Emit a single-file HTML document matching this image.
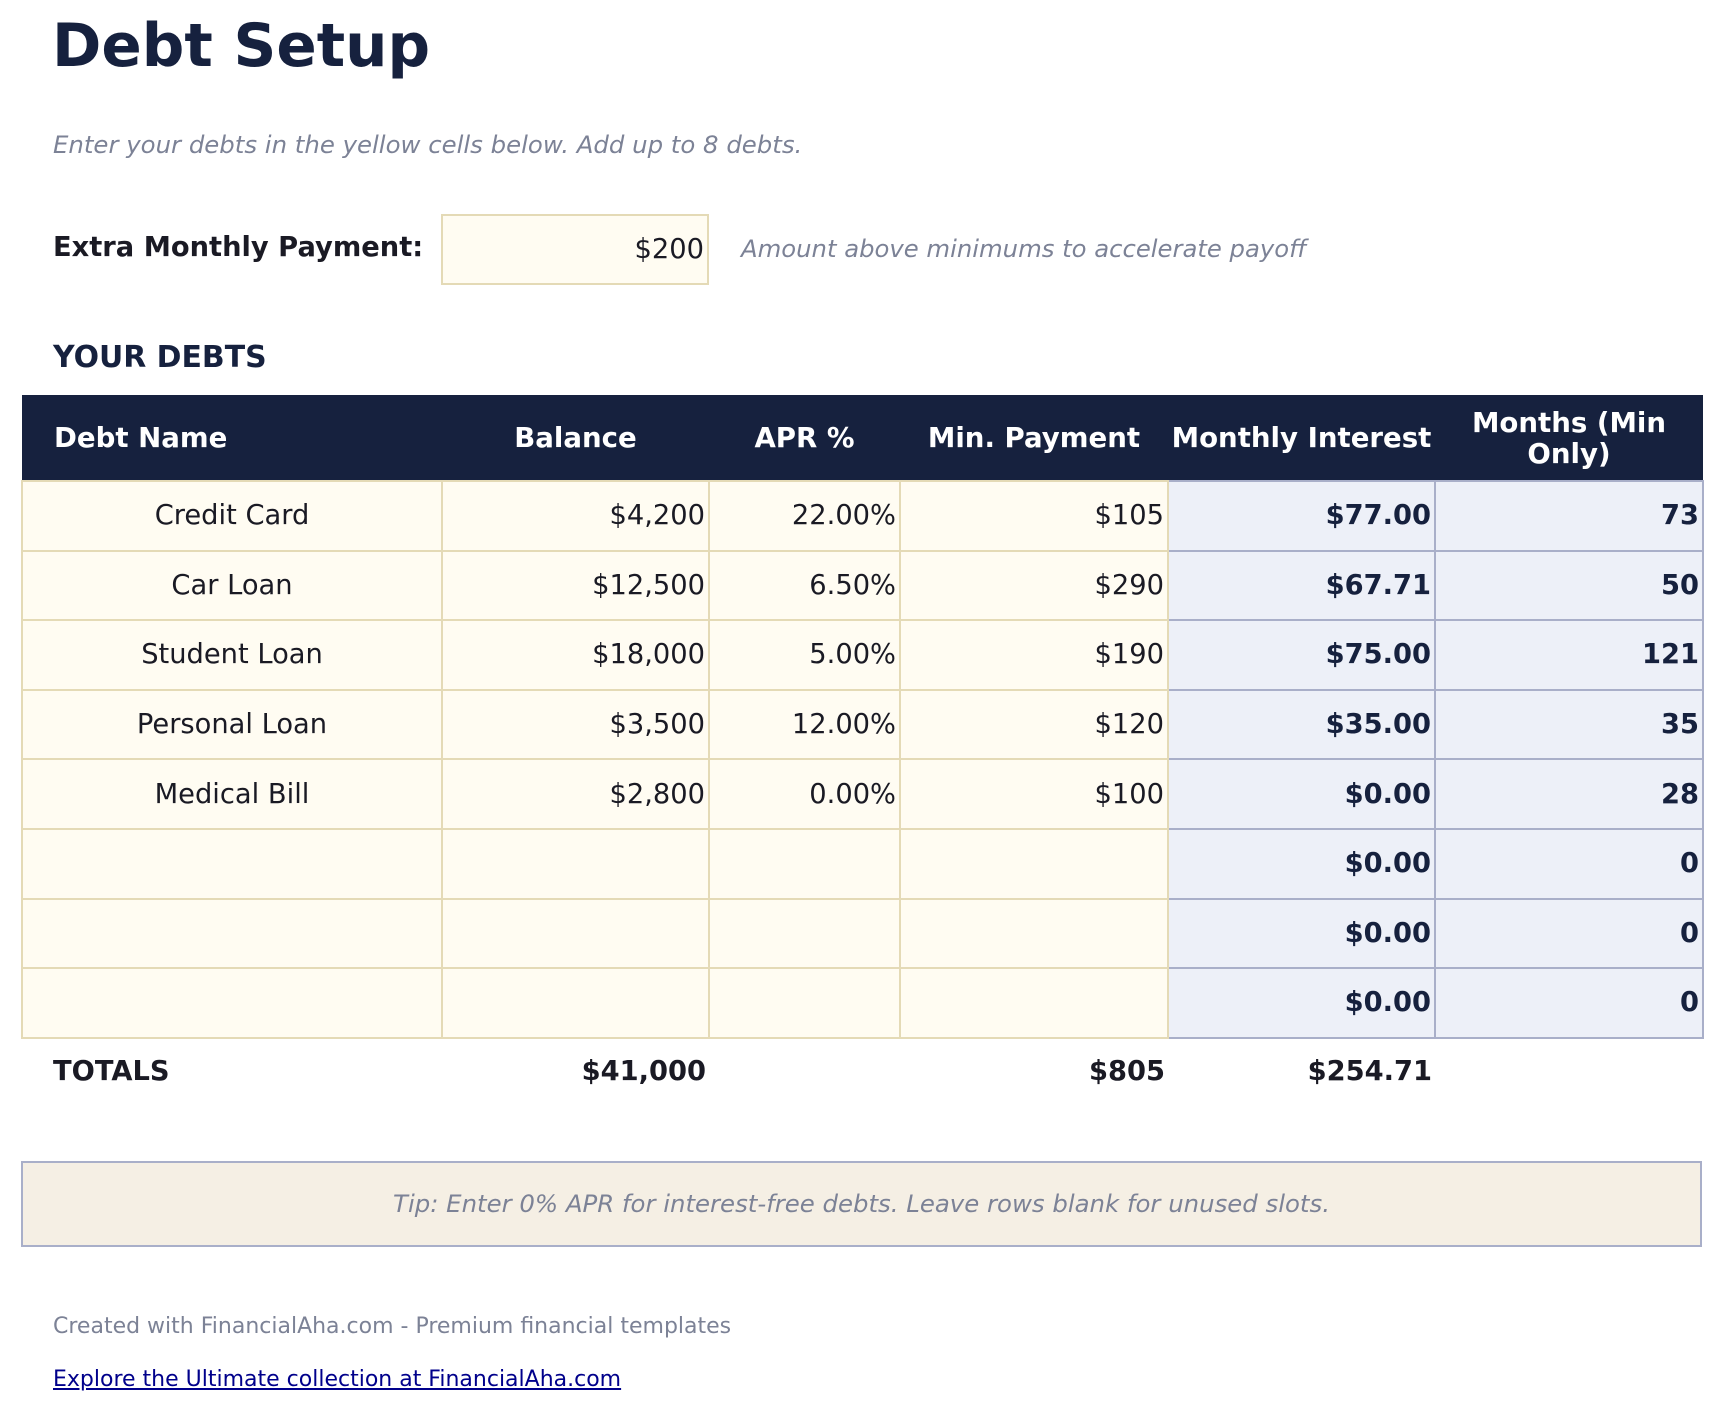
<!DOCTYPE html>
<html><head><meta charset="utf-8"><style>
body{margin:0;width:1723px;height:1412px;background:#fff;font-family:"DejaVu Sans","Liberation Sans",sans-serif;color:#1a1a24;position:relative;overflow:hidden}
.a{position:absolute;white-space:nowrap}
table{position:absolute;left:21px;top:395px;border-collapse:collapse;table-layout:fixed;font-size:27.3px}
td{height:67.6px;padding:0 3px;border:2px solid #e4dab6;background:#fffcf2;text-align:right}
td.c{text-align:center}
td.b{background:#edf0f8;border-color:#a9afc9;font-weight:bold;color:#16213e}
th{background:#16213e;color:#fff;font-weight:bold;height:85px;padding:0;text-align:center;line-height:31px;font-size:27.6px}
</style></head><body>
<div class="a" style="left:52px;top:12px;font-size:59.5px;font-weight:bold;color:#16213e">Debt Setup</div>
<div class="a" style="left:53px;top:130px;font-size:24.4px;font-style:italic;color:#7c8296">Enter your debts in the yellow cells below. Add up to 8 debts.</div>
<div class="a" style="left:53px;top:232px;font-size:27.3px;font-weight:bold">Extra Monthly Payment:</div>
<div class="a" style="left:441px;top:214px;border:2px solid #e4dab6;background:#fffcf2;font-size:27.3px;text-align:right;line-height:67px;padding-right:3px;box-sizing:border-box;width:268px;height:71px">$200</div>
<div class="a" style="left:741px;top:234px;font-size:24.3px;font-style:italic;color:#7c8296">Amount above minimums to accelerate payoff</div>
<div class="a" style="left:53px;top:340px;font-size:29.9px;font-weight:bold;color:#16213e">YOUR DEBTS</div>
<table>
<colgroup><col style="width:420px"><col style="width:267px"><col style="width:191px"><col style="width:268px"><col style="width:267px"><col style="width:268px"></colgroup>
<tr><th style="text-align:left;padding-left:32px">Debt Name</th><th>Balance</th><th>APR %</th><th>Min. Payment</th><th>Monthly Interest</th><th>Months (Min<br>Only)</th></tr>
<tr><td class="c">Credit Card</td><td>$4,200</td><td>22.00%</td><td>$105</td><td class="b">$77.00</td><td class="b">73</td></tr>
<tr><td class="c">Car Loan</td><td>$12,500</td><td>6.50%</td><td>$290</td><td class="b">$67.71</td><td class="b">50</td></tr>
<tr><td class="c">Student Loan</td><td>$18,000</td><td>5.00%</td><td>$190</td><td class="b">$75.00</td><td class="b">121</td></tr>
<tr><td class="c">Personal Loan</td><td>$3,500</td><td>12.00%</td><td>$120</td><td class="b">$35.00</td><td class="b">35</td></tr>
<tr><td class="c">Medical Bill</td><td>$2,800</td><td>0.00%</td><td>$100</td><td class="b">$0.00</td><td class="b">28</td></tr>
<tr><td></td><td></td><td></td><td></td><td class="b">$0.00</td><td class="b">0</td></tr>
<tr><td></td><td></td><td></td><td></td><td class="b">$0.00</td><td class="b">0</td></tr>
<tr><td></td><td></td><td></td><td></td><td class="b">$0.00</td><td class="b">0</td></tr>
</table>
<div class="a" style="left:53px;top:1056px;font-size:27.3px;font-weight:bold">TOTALS</div>
<div class="a" style="right:1017px;top:1056px;font-size:27.3px;font-weight:bold">$41,000</div>
<div class="a" style="right:558px;top:1056px;font-size:27.3px;font-weight:bold">$805</div>
<div class="a" style="right:291px;top:1056px;font-size:27.3px;font-weight:bold">$254.71</div>
<div class="a" style="left:21px;top:1161px;width:1681px;height:86px;box-sizing:border-box;border:2px solid #a9afc9;background:#f5efe4;text-align:center;line-height:82px;font-size:24.4px;font-style:italic;color:#7c8296">Tip: Enter 0% APR for interest-free debts. Leave rows blank for unused slots.</div>
<div class="a" style="left:53px;top:1314px;font-size:22px;color:#7c8296">Created with FinancialAha.com - Premium financial templates</div>
<div class="a" style="left:53px;top:1367px;font-size:22px;color:#00008b;text-decoration:underline">Explore the Ultimate collection at FinancialAha.com</div>
</body></html>
